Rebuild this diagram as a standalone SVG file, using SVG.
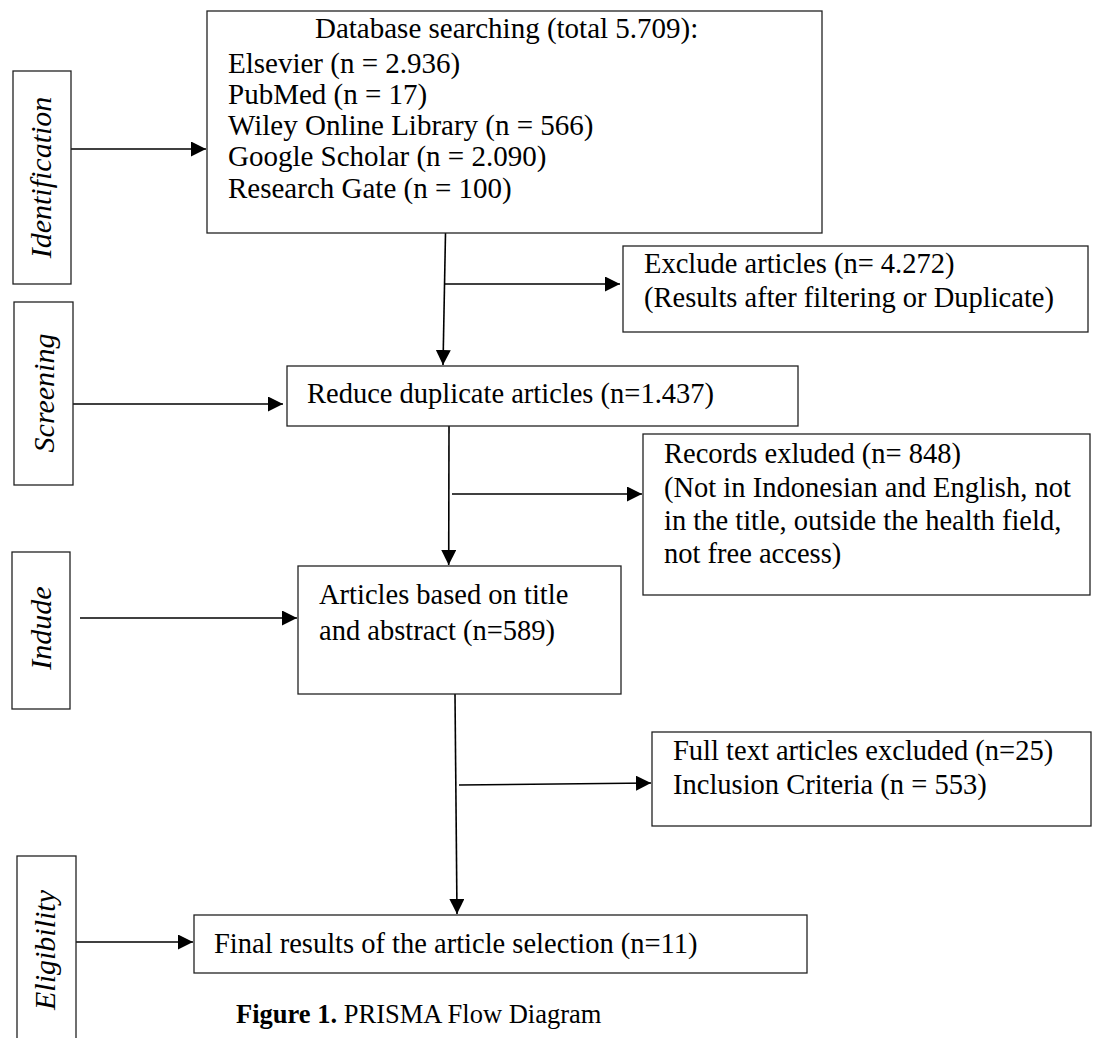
<svg xmlns="http://www.w3.org/2000/svg" width="1093" height="1038" viewBox="0 0 1093 1038">
<style>
.box{fill:#fff;stroke:#222;stroke-width:1.3}
.t{font-family:"Liberation Serif","Times New Roman",serif;font-size:28.5px;fill:#000}
.db{font-size:29px}
.side{font-family:"Liberation Serif","Times New Roman",serif;font-size:30px;font-style:italic;fill:#000;text-anchor:middle}
.cap{font-family:"Liberation Serif","Times New Roman",serif;font-size:26.5px;fill:#000}
.c{stroke:#000;stroke-width:1.6;fill:none;marker-end:url(#ah)}
</style>
<defs>
<marker id="ah" markerUnits="userSpaceOnUse" markerWidth="15" markerHeight="15" refX="15" refY="7.5" orient="auto">
<path d="M0,0 L15,7.5 L0,15 z" fill="#000"/>
</marker>
</defs>
<rect width="1093" height="1038" fill="#fff"/>
<g id="connectors">
<line class="c" x1="71" y1="149" x2="206" y2="149"/>
<line class="c" x1="73" y1="404" x2="283" y2="404"/>
<line class="c" x1="80" y1="618" x2="297" y2="618"/>
<line class="c" x1="76" y1="942" x2="193" y2="942"/>
<line class="c" x1="445.5" y1="233" x2="443" y2="365"/>
<line class="c" x1="445" y1="284" x2="620" y2="284"/>
<line class="c" x1="449" y1="426" x2="448.7" y2="565"/>
<line class="c" x1="452" y1="494" x2="642" y2="494"/>
<line class="c" x1="455" y1="694" x2="457" y2="914"/>
<line class="c" x1="459" y1="785" x2="651" y2="783"/>
</g>
<g id="identification">
<rect class="box" x="13" y="71" width="58" height="213"/>
<text class="side" transform="translate(51,177.5) rotate(-90)">Identification</text>
</g>
<g id="screening">
<rect class="box" x="14" y="302" width="59" height="183"/>
<text class="side" transform="translate(54,393) rotate(-90)">Screening</text>
</g>
<g id="include">
<rect class="box" x="12" y="552" width="58" height="157"/>
<text class="side" transform="translate(51,628) rotate(-90)">Indude</text>
</g>
<g id="eligibility">
<rect class="box" x="17" y="856" width="59" height="190"/>
<text class="side" transform="translate(55,950) rotate(-90)">Eligibility</text>
</g>
<g id="database">
<rect class="box" x="207" y="11" width="615" height="222"/>
<text class="t db" x="315" y="38">Database searching (total 5.709):</text>
<text class="t db" x="228" y="73">Elsevier (n = 2.936)</text>
<text class="t db" x="228" y="104">PubMed (n = 17)</text>
<text class="t db" x="228" y="135">Wiley Online Library (n = 566)</text>
<text class="t db" x="228" y="166">Google Scholar (n = 2.090)</text>
<text class="t db" x="228" y="198">Research Gate (n = 100)</text>
</g>
<g id="exclude">
<rect class="box" x="623" y="246" width="465" height="86"/>
<text class="t" x="644" y="273">Exclude articles (n= 4.272)</text>
<text class="t" x="644" y="307">(Results after filtering or Duplicate)</text>
</g>
<g id="reduce">
<rect class="box" x="287" y="366" width="511" height="60"/>
<text class="t" x="307" y="403">Reduce duplicate articles (n=1.437)</text>
</g>
<g id="records">
<rect class="box" x="643" y="434" width="447" height="161"/>
<text class="t" x="664" y="463">Records exluded (n= 848)</text>
<text class="t" x="664" y="497">(Not in Indonesian and English, not</text>
<text class="t" x="664" y="530">in the title, outside the health field,</text>
<text class="t" x="664" y="563">not free access)</text>
</g>
<g id="articles">
<rect class="box" x="298" y="566" width="323" height="128"/>
<text class="t" x="319" y="604">Articles based on title</text>
<text class="t" x="319" y="640">and abstract (n=589)</text>
</g>
<g id="fulltext">
<rect class="box" x="652" y="732" width="439" height="94"/>
<text class="t" x="673" y="760">Full text articles excluded (n=25)</text>
<text class="t" x="673" y="794">Inclusion Criteria (n = 553)</text>
</g>
<g id="final">
<rect class="box" x="194" y="915" width="613" height="58"/>
<text class="t" x="214" y="953">Final results of the article selection (n=11)</text>
</g>
<text class="cap" x="236" y="1023"><tspan font-weight="bold">Figure 1.</tspan> PRISMA Flow Diagram</text>
</svg>
